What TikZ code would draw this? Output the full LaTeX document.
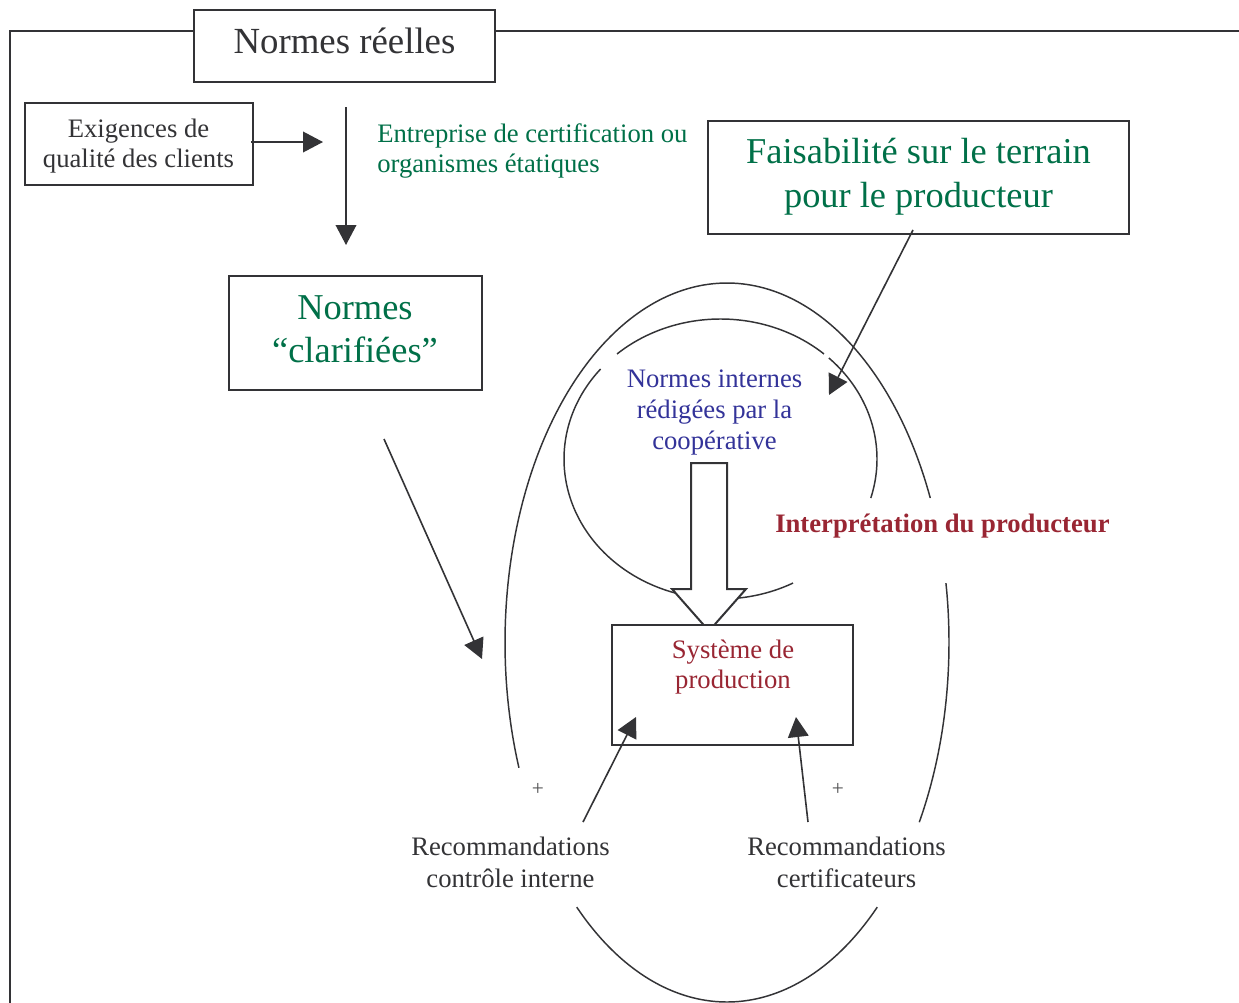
\documentclass[tikz,border=0pt]{standalone}
\usepackage{fontspec}
\setmainfont{Liberation Serif}
\usetikzlibrary{arrows.meta,calc}
\definecolor{ink}{RGB}{51,51,54}
\definecolor{grn}{RGB}{0,112,72}
\definecolor{blu}{RGB}{51,51,153}
\definecolor{rouge}{RGB}{153,38,51}
\begin{document}
\begin{tikzpicture}[x=0.75pt,y=-0.75pt,
  box/.style={draw=ink,line width=1.5pt,fill=white,inner sep=0pt},
  txt/.style={inner sep=0pt,anchor=base},
  arr/.style={draw=ink,line width=1.2pt,-{Triangle[length=15pt,width=15.5pt]}},
  ell/.style={draw=ink,line width=1.1pt},
  hollow/.style={draw=ink,line width=1.5pt,fill=white,line join=miter},
  framestyle/.style={draw=ink,line width=1.5pt},
  plus/.style={inner sep=0pt,text=ink!85,font=\fontsize{16}{16}\selectfont}]
\useasboundingbox (0,0) rectangle (1239,1003);
\fill[white] (0,0) rectangle (1239,1003);

% outer frame
\draw[framestyle] (10,1003) -- (10,31) -- (1239,31);

% outer ellipse pieces
\draw[ell] plot[domain=159.6:336.3,samples=160,variable=\t] ({727+222*cos(\t)},{642.5+359.5*sin(\t)});
\draw[ell] plot[domain=-9.5:30,samples=60,variable=\t] ({727+222*cos(\t)},{642.5+359.5*sin(\t)});
\draw[ell] plot[domain=47.4:132.6,samples=100,variable=\t] ({727+222*cos(\t)},{642.5+359.5*sin(\t)});

% inner ellipse pieces
\draw[ell] plot[domain=228.6:311.4,samples=100,variable=\t] ({720.5+156.5*cos(\t)},{459+140*sin(\t)});
\draw[ell] plot[domain=313.8:376.2,samples=80,variable=\t] ({720.5+156.5*cos(\t)},{459+140*sin(\t)});
\draw[ell] plot[domain=62.4:220,samples=160,variable=\t] ({720.5+156.5*cos(\t)},{459+140*sin(\t)});

% hollow arrow
\draw[hollow] (691,463) -- (727,463) -- (727,589) -- (746,589) -- (709,631) -- (672,589) -- (691,589) -- cycle;

% boxes
\node[box,minimum width=225.4pt,minimum height=54pt] (nr) at (344.75,46) {};
\node[box,minimum width=171pt,minimum height=61.5pt] (ex) at (139,144) {};
\node[box,minimum width=315.75pt,minimum height=84.75pt] (fa) at (918.5,177.5) {};
\node[box,minimum width=189.75pt,minimum height=85.5pt] (nc) at (355.5,333) {};
\node[box,minimum width=180.75pt,minimum height=90pt] (sp) at (732.5,685) {};

% texts
\node[txt,text=ink,font=\fontsize{27.6}{33}\selectfont] (nrt) at (344.5,53) {Normes réelles};
\node[txt,text=ink,font=\fontsize{20}{22.5}\selectfont] (ext) at (138.5,137)
  {\begin{tabular}[t]{@{}c@{}}Exigences de\\qualité des clients\end{tabular}};
\node[txt,anchor=base west,text=grn,font=\fontsize{20}{22.5}\selectfont] (ent) at (377,142)
  {\begin{tabular}[t]{@{}l@{}}Entreprise de certification ou\\organismes étatiques\end{tabular}};
\node[txt,text=grn,font=\fontsize{27.3}{33}\selectfont] (fat) at (918.5,163)
  {\begin{tabular}[t]{@{}c@{}}Faisabilité sur le terrain\\pour le producteur\end{tabular}};
\node[txt,text=grn,font=\fontsize{27.3}{32.25}\selectfont] (nct) at (355,319)
  {\begin{tabular}[t]{@{}c@{}}Normes\\“clarifiées”\end{tabular}};
\node[txt,text=blu,font=\fontsize{20}{23.25}\selectfont] (nit) at (714.5,387)
  {\begin{tabular}[t]{@{}c@{}}Normes internes\\rédigées par la\\coopérative\end{tabular}};
\node[txt,text=rouge,font=\fontsize{20}{22.5}\selectfont] (spt) at (733,658)
  {\begin{tabular}[t]{@{}c@{}}Système de\\production\end{tabular}};
\node[txt,anchor=base west,text=rouge,font=\fontsize{20}{24}\selectfont\bfseries] (ipt) at (775,532)
  {Interprétation du producteur};
\node[txt,text=ink,font=\fontsize{20}{24}\selectfont] (rc1) at (510.5,855)
  {\begin{tabular}[t]{@{}c@{}}Recommandations\\contrôle interne\end{tabular}};
\node[txt,text=ink,font=\fontsize{20}{24}\selectfont] (rc2) at (846.5,855)
  {\begin{tabular}[t]{@{}c@{}}Recommandations\\certificateurs\end{tabular}};
\node[plus] (p1) at (538,789) {+};
\node[plus] (p2) at (838,789) {+};

% connectors
\coordinate (exTip) at (323,142);
\draw[arr] ($(ex.east)+(-3,-2)$) -- (exTip);
\coordinate (vTop) at (346,107);
\coordinate (vBot) at (346,245);
\draw[arr] (vTop) -- (vBot);
\coordinate (faTip) at (829,395);
\draw[arr] ($(fa.south)+(-5.5,-5)$) -- (faTip);
\coordinate (ncTip) at (482,659);
\draw[arr] ($(nc.south)+(28.5,48)$) -- (ncTip);
\coordinate (rc1A) at (583,822);
\draw[arr] (rc1A) -- ($(sp.south west)+(25,-29)$);
\coordinate (rc2A) at (808,822);
\draw[arr] (rc2A) -- ($(sp.south east)+(-58,-29)$);
\end{tikzpicture}
\end{document}
